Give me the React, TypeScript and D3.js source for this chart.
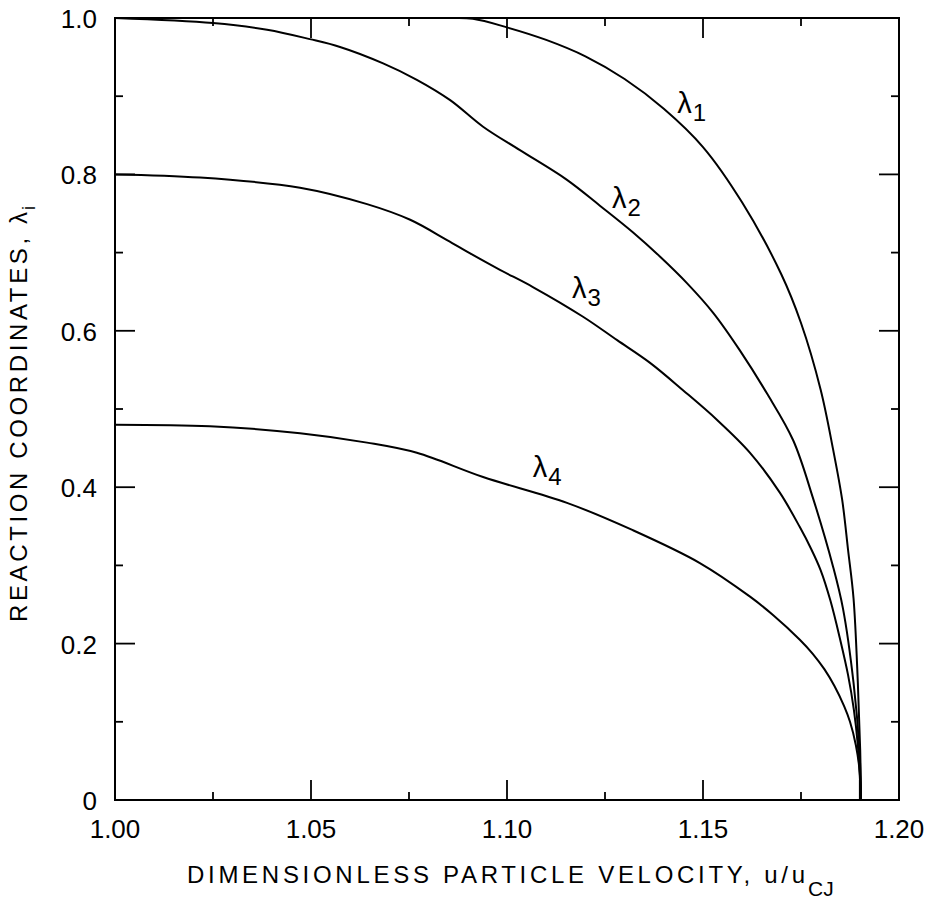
import React, { useEffect, useRef } from 'react';
import * as d3 from 'd3';

// curves: [u/uCJ, lambda]
const lambda1 = [
  [1.0, 1.0], [1.05, 1.0], [1.085, 1.0], [1.0913, 0.999], [1.1, 0.988], [1.11, 0.972],
  [1.12, 0.951], [1.13, 0.922], [1.14, 0.884], [1.15, 0.835], [1.16, 0.764],
  [1.17, 0.672], [1.175, 0.61], [1.18, 0.525], [1.1832, 0.448], [1.1855, 0.384],
  [1.187, 0.32], [1.1884, 0.258], [1.1895, 0.15], [1.1901, 0.064], [1.1903, 0.0],
];
const lambda2 = [
  [1.0, 1.0], [1.025, 0.9936], [1.0388, 0.985], [1.0497, 0.973], [1.0574, 0.963],
  [1.0684, 0.942], [1.077, 0.921], [1.0855, 0.895], [1.0939, 0.861], [1.1033, 0.831],
  [1.1153, 0.793], [1.1237, 0.76], [1.1321, 0.726], [1.139, 0.695], [1.1459, 0.661],
  [1.1526, 0.623], [1.1594, 0.575], [1.1663, 0.52], [1.173, 0.46], [1.178, 0.387],
  [1.1832, 0.298], [1.1857, 0.245], [1.1884, 0.15], [1.1899, 0.064], [1.1903, 0.0],
];
const lambda3 = [
  [1.0, 0.8], [1.0217, 0.796], [1.0472, 0.783], [1.0643, 0.762], [1.0753, 0.742],
  [1.0847, 0.716], [1.0906, 0.699], [1.0982, 0.678], [1.1066, 0.656], [1.1194, 0.618],
  [1.1281, 0.588], [1.1365, 0.559], [1.1449, 0.524], [1.1536, 0.486], [1.162, 0.444],
  [1.1696, 0.393], [1.1747, 0.349], [1.1775, 0.322], [1.18, 0.294], [1.1825, 0.255],
  [1.185, 0.205], [1.187, 0.16], [1.1885, 0.115], [1.1895, 0.07], [1.19, 0.03], [1.1903, 0.0],
];
const lambda4 = [
  [1.0, 0.48], [1.0242, 0.478], [1.0472, 0.469], [1.0643, 0.457], [1.077, 0.444],
  [1.0939, 0.413], [1.1153, 0.38], [1.1321, 0.345], [1.1492, 0.303], [1.162, 0.26],
  [1.168, 0.236], [1.1747, 0.205], [1.178, 0.187], [1.181, 0.167], [1.1835, 0.146],
  [1.186, 0.12], [1.1875, 0.1], [1.189, 0.07], [1.19, 0.035], [1.1903, 0.0],
];

const seriesNames = ['1', '2', '3', '4'];
// baseline-left of each curve label, in data units
const labelAt = [[1.1434, 0.879], [1.1268, 0.757], [1.1166, 0.642], [1.1066, 0.413]];

const xMajor = [1.0, 1.05, 1.1, 1.15, 1.2];
const xMinor = [1.025, 1.075, 1.125, 1.175];
const xExtra = [1.19];
const xLabels = ['1.00', '1.05', '1.10', '1.15', '1.20'];
const yMajor = [0, 0.2, 0.4, 0.6, 0.8, 1.0];
const yMinor = [0.1, 0.3, 0.5, 0.7, 0.9];
const yLabels = ['0', '0.2', '0.4', '0.6', '0.8', '1.0'];

const Chart = () => {
  const svgRef = useRef(null);

  useEffect(() => {
    const width = 933;
    const height = 899;
    const left = 115, right = 899, top = 18, bottom = 800;
    const font = "'Liberation Sans', Arial, Helvetica, sans-serif";

    const x = d3.scaleLinear().domain([1.0, 1.2]).range([left, right]);
    const y = d3.scaleLinear().domain([0, 1]).range([bottom, top]);

    const svg = d3.select(svgRef.current)
      .attr('width', width)
      .attr('height', height)
      .attr('viewBox', [0, 0, width, height])
      .style('position', 'absolute')
      .style('left', '0px')
      .style('top', '0px')
      .style('background', '#fff');
    svg.selectAll('*').remove();

    // frame
    svg.append('rect')
      .attr('x', left).attr('y', top)
      .attr('width', right - left).attr('height', bottom - top)
      .attr('fill', 'none').attr('stroke', '#000').attr('stroke-width', 2);

    const ticks = svg.append('g').attr('stroke', '#000').attr('stroke-width', 1.8);
    const major = 20, minor = 8;

    // bottom + top ticks
    const xt = [
      ...xMajor.filter(d => d < 1.2).map(d => ({ v: d, len: major })),
      ...xMinor.map(d => ({ v: d, len: minor })),
    ];
    ticks.selectAll('.xb').data([...xt, ...xExtra.map(d => ({ v: d, len: major }))]).join('line')
      .attr('x1', d => x(d.v)).attr('x2', d => x(d.v))
      .attr('y1', bottom).attr('y2', d => bottom - d.len);
    ticks.selectAll('.xt').data(xt.filter(d => d.v > 1.0)).join('line')
      .attr('x1', d => x(d.v)).attr('x2', d => x(d.v))
      .attr('y1', top).attr('y2', d => top + d.len);

    // left + right ticks
    const yt = [
      ...yMajor.filter(d => d > 0 && d < 1).map(d => ({ v: d, len: major })),
      ...yMinor.map(d => ({ v: d, len: minor })),
    ];
    ticks.selectAll('.yl').data(yt).join('line')
      .attr('x1', left).attr('x2', d => left + d.len)
      .attr('y1', d => y(d.v)).attr('y2', d => y(d.v));
    ticks.selectAll('.yr').data(yt).join('line')
      .attr('x1', right).attr('x2', d => right - d.len)
      .attr('y1', d => y(d.v)).attr('y2', d => y(d.v));

    // tick labels
    svg.append('g')
      .attr('font-family', font).attr('font-size', 26).attr('text-anchor', 'middle')
      .selectAll('text').data(xMajor).join('text')
      .attr('x', d => x(d)).attr('y', bottom + 38)
      .text((d, i) => xLabels[i]);

    svg.append('g')
      .attr('font-family', font).attr('font-size', 26).attr('text-anchor', 'end')
      .selectAll('text').data(yMajor).join('text')
      .attr('x', left - 18).attr('y', d => y(d) + 10)
      .text((d, i) => yLabels[i]);

    // curves
    const line = d3.line()
      .x(d => x(d[0]))
      .y(d => y(d[1]))
      .curve(d3.curveCatmullRom.alpha(0.5));

    svg.append('g')
      .attr('fill', 'none').attr('stroke', '#000').attr('stroke-width', 2)
      .selectAll('path').data([lambda1, lambda2, lambda3, lambda4]).join('path')
      .attr('d', line);

    // curve labels
    const lab = svg.append('g').attr('font-family', font)
      .selectAll('text').data(labelAt).join('text')
      .attr('x', d => x(d[0])).attr('y', d => y(d[1]))
      .attr('font-size', 29);
    lab.append('tspan').text('λ');
    lab.append('tspan').attr('dy', 8).attr('dx', 1).attr('font-size', 24)
      .text((d, i) => seriesNames[i]);

    // axis titles
    svg.append('text')
      .attr('font-family', font).attr('font-size', 24)
      .attr('x', 187).attr('y', 883)
      .attr('textLength', 618).attr('lengthAdjust', 'spacing')
      .text('DIMENSIONLESS PARTICLE VELOCITY, u/u');
    svg.append('text')
      .attr('font-family', font).attr('font-size', 21)
      .attr('x', 808).attr('y', 896)
      .text('CJ');

    svg.append('text')
      .attr('font-family', font).attr('font-size', 24)
      .attr('transform', 'translate(27,622) rotate(-90)')
      .attr('textLength', 410).attr('lengthAdjust', 'spacing')
      .text('REACTION COORDINATES, λ');
    svg.append('text')
      .attr('font-family', font).attr('font-size', 18)
      .attr('transform', 'translate(35,210) rotate(-90)')
      .text('i');
  }, []);

  return <svg ref={svgRef}></svg>;
};

export default function App() {
  return <Chart />;
}
